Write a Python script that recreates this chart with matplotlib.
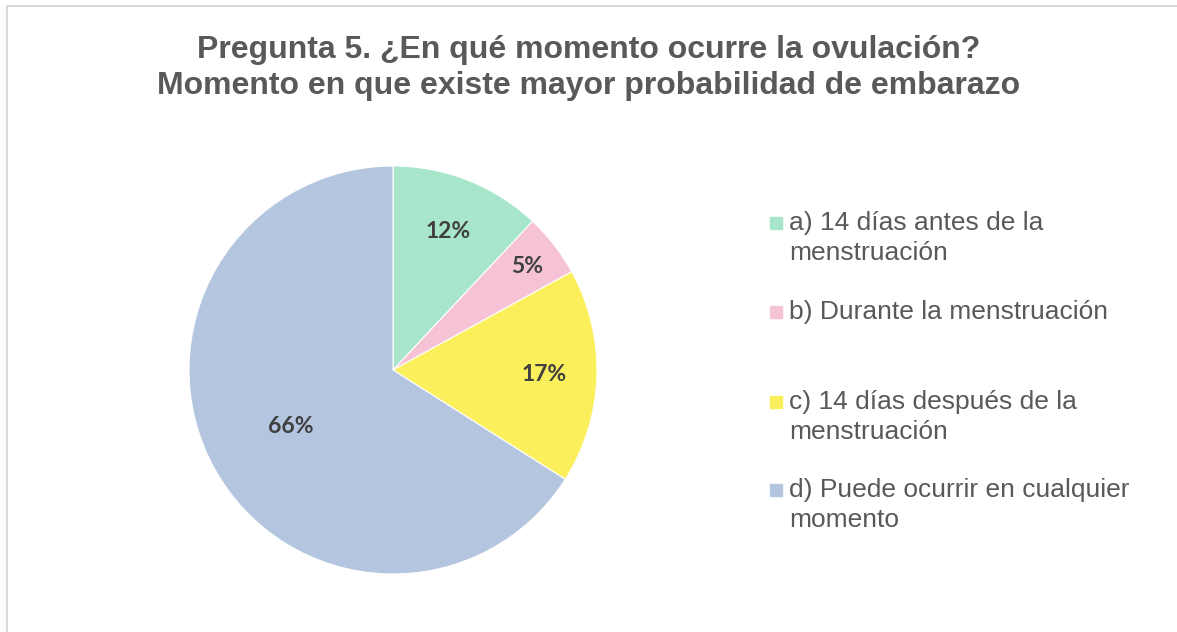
import numpy as np
import matplotlib
matplotlib.use("Agg")
import matplotlib.pyplot as plt
from matplotlib.lines import Line2D
from matplotlib.patches import Rectangle

# data
labels = [
    "a) 14 días antes de la\nmenstruación",
    "b) Durante la menstruación",
    "c) 14 días después de la\nmenstruación",
    "d) Puede ocurrir en cualquier\nmomento",
]
values = [12, 5, 17, 66]
colors = ["#A8E6CB", "#F6C3D6", "#FBEF5C", "#B4C6DF"]
title = ("Pregunta 5. ¿En qué momento ocurre la ovulación?\n"
         "Momento en que existe mayor probabilidad de embarazo")

W, H = 1177, 632
fig = plt.figure(figsize=(W / 100, H / 100), dpi=100)
fig.patch.set_facecolor("white")

# thin gray frame (top and left only, as in the reference)
fig.add_artist(Line2D([7 / W, 1], [1 - 6 / H, 1 - 6 / H], color="#D9D9D9", lw=1.5))
fig.add_artist(Line2D([7 / W, 7 / W], [0, 1 - 6 / H], color="#D9D9D9", lw=1.5))

fig.text(0.5, 1 - 68 / H, title, ha="center", va="center", fontsize=23,
         fontweight="bold", color="#595959", family="Liberation Sans", linespacing=1.24)

# pie axes: center ~ (393, 370) px, radius ~204 px
cx, cy, r = 393, 370, 204
ax = fig.add_axes([(cx - r) / W, (H - cy - r) / H, 2 * r / W, 2 * r / H])
wedges, _ = ax.pie(values, colors=colors, startangle=90, counterclock=False,
                   radius=1.0, wedgeprops=dict(linewidth=0.8, edgecolor="white"))
ax.set_xlim(-1, 1)
ax.set_ylim(-1, 1)
ax.set_aspect("equal")
ax.axis("off")

# percentage labels at the mid-angle of each wedge
label_dist = [0.73, 0.83, 0.74, 0.57]
for w, v, d in zip(wedges, values, label_dist):
    ang = np.deg2rad((w.theta1 + w.theta2) / 2)
    ax.text(d * np.cos(ang), d * np.sin(ang), f"{v}%", ha="center", va="center",
            fontsize=16.5, fontweight="bold", color="#404040", family="Lato")

# manual legend to keep the uneven spacing of the original
item_y = [238, 312, 417, 505]
for lab, col, y in zip(labels, colors, item_y):
    top_line = y - 15.5 * lab.count("\n")
    fig.add_artist(Rectangle((770 / W, 1 - (top_line + 6) / H), 12 / W, 12 / H,
                             color=col, transform=fig.transFigure))
    fig.text(789 / W, 1 - y / H, lab, ha="left", va="center", fontsize=19,
             color="#595959", family="Liberation Sans", linespacing=1.35)

fig.savefig("out.png", dpi=100)
